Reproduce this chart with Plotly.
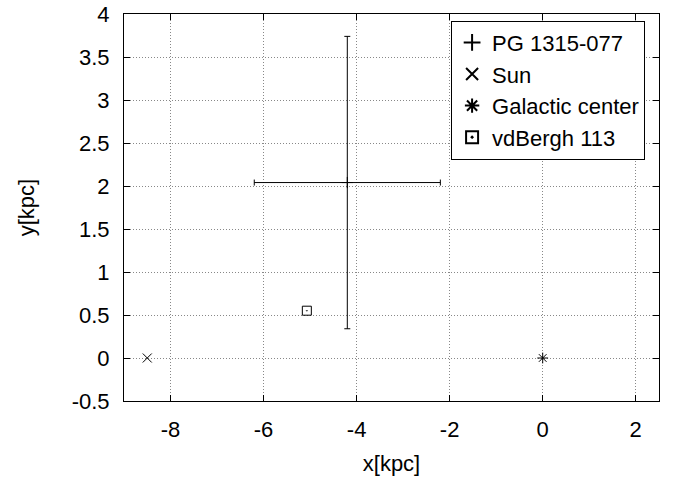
import plotly.graph_objects as go

# Data
pg_name = "PG 1315-077"
pg_x = [-4.2]
pg_y = [2.04]
pg_xerr = [2.0]
pg_yerr = [1.7]

sun_name = "Sun"
sun_x = [-8.5]
sun_y = [0.0]

gc_name = "Galactic center"
gc_x = [0.0]
gc_y = [0.0]

vdb_name = "vdBergh 113"
vdb_x = [-5.07]
vdb_y = [0.55]

x_ticks = [-8, -6, -4, -2, 0, 2]
x_tick_labels = ["-8", "-6", "-4", "-2", "0", "2"]
y_ticks = [-0.5, 0, 0.5, 1, 1.5, 2, 2.5, 3, 3.5, 4]
y_tick_labels = ["-0.5", "0", "0.5", "1", "1.5", "2", "2.5", "3", "3.5", "4"]

FONT = "Liberation Sans, Arial, Helvetica, sans-serif"
FS = 22

fig = go.Figure()

fig.add_trace(go.Scatter(
    x=pg_x, y=pg_y, name=pg_name, mode="markers",
    marker=dict(symbol="cross-thin-open", size=8, color="black",
                line=dict(color="black", width=1)),
    error_x=dict(type="data", array=pg_xerr, color="black", thickness=1, width=3),
    error_y=dict(type="data", array=pg_yerr, color="black", thickness=1, width=3),
))
fig.add_trace(go.Scatter(
    x=sun_x, y=sun_y, name=sun_name, mode="markers",
    marker=dict(symbol="x-thin-open", size=9, color="black",
                line=dict(color="black", width=1)),
))
fig.add_trace(go.Scatter(
    x=gc_x, y=gc_y, name=gc_name, mode="markers",
    marker=dict(symbol="asterisk-open", size=9, color="black",
                line=dict(color="black", width=1)),
))
fig.add_trace(go.Scatter(
    x=vdb_x, y=vdb_y, name=vdb_name, mode="markers",
    marker=dict(symbol="square-open-dot", size=9, color="black",
                line=dict(color="black", width=1)),
))

axis_common = dict(
    showline=True, linecolor="black", linewidth=1, mirror="ticks",
    ticks="inside", ticklen=6, tickcolor="black", tickwidth=1,
    showgrid=True, gridcolor="#888888", gridwidth=1, griddash="1px,2px",
    zeroline=False, automargin=False,
    tickfont=dict(family=FONT, size=FS, color="black"),
)

fig.update_layout(
    width=676, height=477,
    margin=dict(l=124, r=17, t=14, b=76),
    paper_bgcolor="white", plot_bgcolor="white",
    font=dict(family=FONT, size=FS, color="black"),
    xaxis=dict(range=[-9, 2.5], tickvals=x_ticks, ticktext=x_tick_labels,
               ticklabelstandoff=9,
               title=dict(text="x[kpc]", font=dict(family=FONT, size=FS), standoff=14),
               **axis_common),
    yaxis=dict(range=[-0.5, 4], tickvals=y_ticks, ticktext=y_tick_labels,
               ticklabelstandoff=9,
               title=dict(text="y[kpc]", font=dict(family=FONT, size=FS), standoff=30),
               **axis_common),
    legend=dict(
        x=0.974, y=0.983, xanchor="right", yanchor="top",
        bgcolor="white", bordercolor="black", borderwidth=1,
        font=dict(family=FONT, size=FS, color="black"),
        tracegroupgap=0, itemsizing="constant",
    ),
    showlegend=True,
)

fig.write_html("out.html")
